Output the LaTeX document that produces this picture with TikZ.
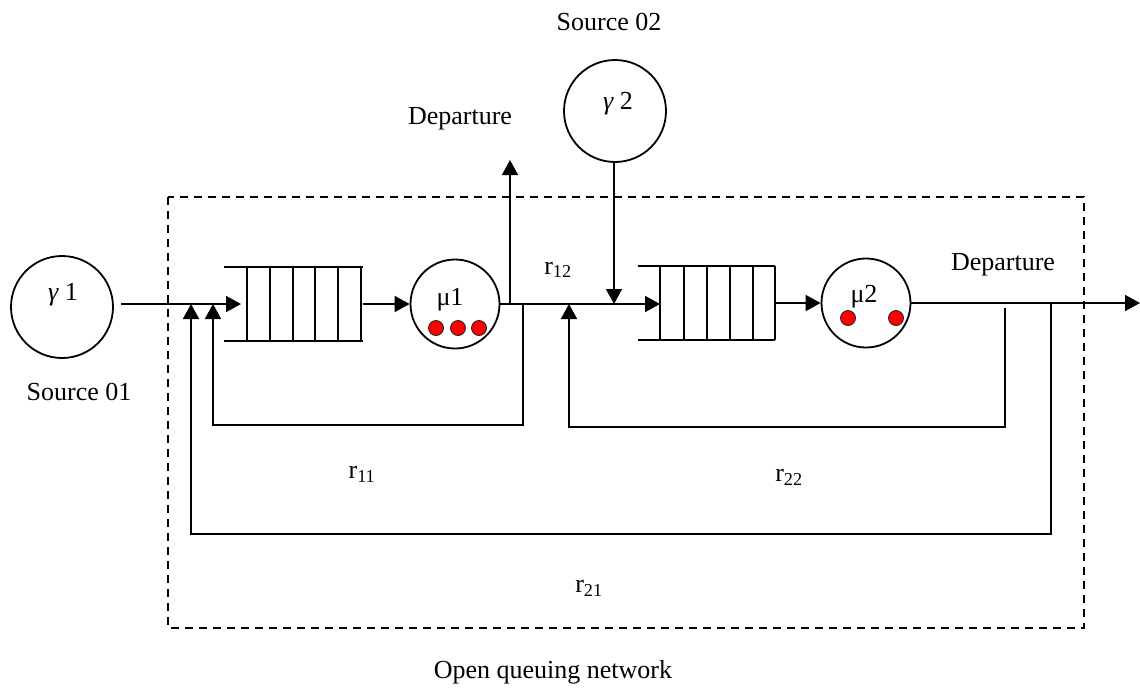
\documentclass[tikz,border=0pt]{standalone}
\usepackage{fontspec}
\setmainfont{Liberation Serif}
\usetikzlibrary{arrows.meta}

\begin{document}
\begin{tikzpicture}[x=1pt, y=-1pt,
  lbltext/.style={font=\fontsize{26}{30}\selectfont, inner sep=0pt},
  wireln/.style={line width=1.8pt},
  flowarrow/.style={wireln, -{Triangle[length=15pt,width=16pt]}},
  srcnode/.style={circle, draw, line width=1.8pt, minimum size=102pt, inner sep=0pt},
  srvnode/.style={circle, draw, line width=1.8pt, minimum size=89pt, inner sep=0pt},
  qcells/.style={minimum width=115pt, minimum height=73pt, inner sep=0pt},
  tokdot/.style={circle, fill=red, draw=black!85, line width=0.9pt, minimum size=15pt, inner sep=0pt},
  netborder/.style={line width=1.4pt, dash pattern=on 8pt off 6pt}]
\useasboundingbox (0,0) rectangle (1140,689);

% network boundary
\draw[netborder] (168,197) rectangle (1084,628);

% sources
\node[srcnode] (g1) at (62,307) {};
\node[lbltext] (g1t) at (63,295) {{\itshape γ} 1};
\node[srcnode] (g2) at (615,111) {};
\node[lbltext] (g2t) at (618,104) {{\itshape γ} 2};

% queue 1 (open on the left)
\node[qcells] (q1) at (305,304) {};
\draw[wireln] ([xshift=-23pt]q1.north west) -- (q1.north east)
              ([xshift=-23pt]q1.south west) -- (q1.south east);
\foreach \x in {0,23,46,68,91,114}
  \draw[wireln] ([xshift=\x pt]q1.north west) -- ([xshift=\x pt]q1.south west);

% server 1
\node[srvnode] (m1) at (455,304) {};
\node[lbltext] (m1t) at (450,300) {μ1};
\node[tokdot] (d11) at (436,328) {};
\node[tokdot] (d12) at (458,328) {};
\node[tokdot] (d13) at (479,328) {};

% queue 2
\node[qcells] (q2) at (717.5,303) {};
\draw[wireln] ([xshift=-22pt]q2.north west) -- (q2.north east)
              ([xshift=-22pt]q2.south west) -- (q2.south east);
\foreach \x in {0,24,47,70,93,115}
  \draw[wireln] ([xshift=\x pt]q2.north west) -- ([xshift=\x pt]q2.south west);

% server 2
\node[srvnode] (m2) at (866,303) {};
\node[lbltext] (m2t) at (864,297) {μ2};
\node[tokdot] (d21) at (848,318) {};
\node[tokdot] (d22) at (896,318) {};

% junction points on the main line
\coordinate (s1out) at (121,304);
\coordinate (in1)   at (241,304);
\coordinate (j11)   at (213,304);
\coordinate (j21)   at (191,304);
\coordinate (dep1)  at (510,304);
\coordinate (dep1e) at (510,160);
\coordinate (fb11)  at (523,304);
\coordinate (in2)   at (660,304);
\coordinate (ent2)  at (614,304);
\coordinate (j22)   at (569,304);
\coordinate (fb22)  at (1005,308);
\coordinate (fb21)  at (1051,303);
\coordinate (out)   at (1140,303);

% main flow
\draw[flowarrow] (s1out) -- (in1);
\draw[flowarrow] (q1.east) -- (m1.west);
\draw[flowarrow] (m1.east) -- (in2);
\draw[flowarrow] (dep1) -- (dep1e);
\draw[flowarrow] (g2.south -| ent2) -- (ent2);
\draw[flowarrow] (q2.east) -- (m2.west);
\draw[flowarrow] (m2.east) -- (out);

% feedback loops
\draw[flowarrow] (fb11) |- (213,425) -- (j11);
\draw[flowarrow] (fb22) |- (569,427) -- (j22);
\draw[flowarrow] (fb21) |- (191,534) -- (j21);

% labels
\node[lbltext] (src1) at (79,392) {Source 01};
\node[lbltext] (src2) at (609,22) {Source 02};
\node[lbltext] (dl1) at (460,119) {Departure};
\node[lbltext] (dl2) at (1003,265) {Departure};
\node[lbltext] (r12) at (558,270) {r\textsubscript{12}};
\node[lbltext] (r11) at (362,474) {r\textsubscript{11}};
\node[lbltext] (r22) at (789,477) {r\textsubscript{22}};
\node[lbltext] (r21) at (589,588) {r\textsubscript{21}};
\node[lbltext] (cap) at (553,672) {Open queuing network};
\end{tikzpicture}
\end{document}
